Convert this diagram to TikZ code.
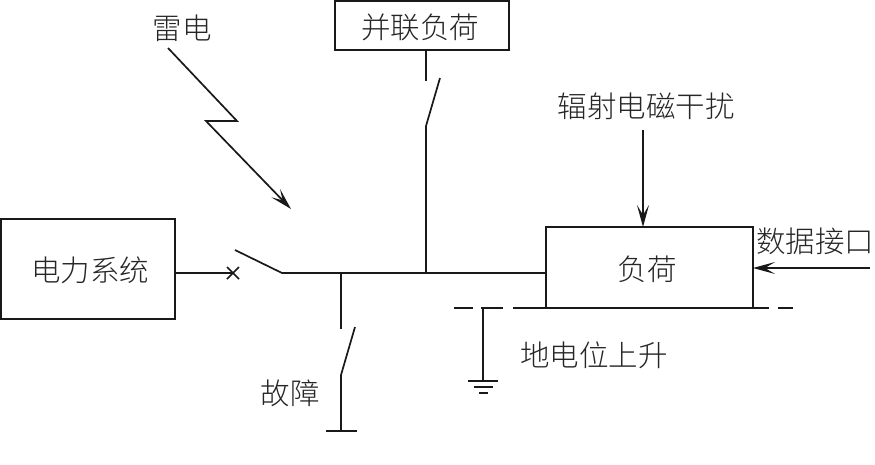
\documentclass[tikz,border=0pt]{standalone}
\usepackage{fontspec}
\newfontfamily\cjk[UprightFont={* Light}]{Noto Sans CJK SC}
\usetikzlibrary{arrows.meta}
\tikzset{
  wire/.style={line width=1.7pt,black!90},
  box/.style={draw=black!90,line width=2.1pt,minimum height=#1,inner sep=0pt,outer sep=0pt,fill=white},
  lbl/.style={font=\cjk\fontsize{29.5}{32}\selectfont,inner sep=0pt,text=black!85},
  tip/.style={-{Stealth[length=22pt,width=12pt,inset=10pt]}}
}
\begin{document}
\begin{tikzpicture}[x=1pt,y=-1pt]
\useasboundingbox (0,0) rectangle (875,464);
% boxes
\node[box=100pt,minimum width=174pt] (power) at (88,269) {};
\node[box=49pt,minimum width=174pt] (par) at (422,25.5) {};
\node[box=81pt,minimum width=207pt] (load) at (649.5,267.5) {};
% labels
\node[lbl] (tpower) at (90,270) {电力系统};
\node[lbl] (tpar) at (420,27) {并联负荷};
\node[lbl] (tload) at (647,269) {负荷};
\node[lbl] (tlight) at (182,28) {雷电};
\node[lbl] (trad) at (646,106) {辐射电磁干扰};
\node[lbl] (tdata) at (815,241) {数据接口};
\node[lbl] (tfault) at (290,393) {故障};
\node[lbl] (trise) at (594,355) {地电位上升};
% coordinates
\coordinate (x) at (233,273);
\coordinate (swA) at (235,250);
\coordinate (swB) at (282,273);
\coordinate (busF) at (341,273);
\coordinate (busP) at (426,273);
\coordinate (busL) at (load.west |- x);
\coordinate (fA) at (341,329);
\coordinate (fB) at (355,327);
\coordinate (fC) at (341,375);
\coordinate (fG) at (341,431);
\coordinate (pA) at (426,81);
\coordinate (pB) at (440,78);
\coordinate (pC) at (426,126);
% main circuit
\draw[wire] (power.east |- x) -- (x);
\draw[wire,line width=1.5pt] (227,267) -- (239,279) (227,279) -- (239,267);
\draw[wire] (swA) -- (swB) -- (busL);
\draw[wire] (busF) -- (fA);
\draw[wire] (fB) -- (fC) -- (fG);
\draw[wire] (326,431) -- (357,431);
\draw[wire] (pA |- par.south) -- (pA);
\draw[wire] (pB) -- (pC) -- (busP);
% lightning
\coordinate (l1) at (168,48);
\coordinate (l2) at (237,121);
\coordinate (l3) at (206,121);
\coordinate (l4) at (291,209);
\draw[wire,tip] (l1) -- (l2) -- (l3) -- (l4);
% interference arrows
\coordinate (radS) at (643,130);
\draw[wire,tip] (radS) -- (radS |- load.north);
\coordinate (dataS) at (870,268);
\draw[wire,tip] (dataS) -- (load.east |- dataS);
% earth line
\draw[wire] (454,308) -- (473,308) (481,308) -- (503,308) (513,308) -- (load.south west);
\draw[wire] (load.south east) -- (769,308) (778,308) -- (793,308);
\coordinate (gT) at (483,308);
\coordinate (gB) at (483,381);
\draw[wire] (gT) -- (gB);
\draw[wire] (468,381) -- (498,381) (474,387) -- (493,387) (479,393) -- (488,393);
\end{tikzpicture}
\end{document}
